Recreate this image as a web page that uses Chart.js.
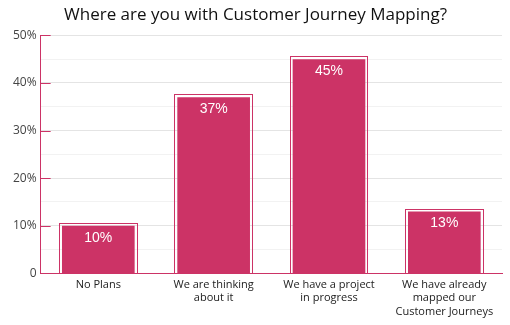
<!DOCTYPE html>
<html>
<head>
<meta charset="utf-8">
<script src="https://cdn.jsdelivr.net/npm/chart.js@4"></script>
<style>
  html, body { margin: 0; padding: 0; background: #fff; }
  #wrap { width: 510px; height: 325px; }
</style>
</head>
<body>
<div id="wrap"><canvas id="grafico"></canvas></div>
<script>
'use strict';

const titulo = "Where are you with Customer Journey Mapping?";
const categorias = [
    ["No Plans"],
    ["We are thinking", "about it"],
    ["We have a project", "in progress"],
    ["We have already", "mapped our", "Customer Journeys"]
];
const valores = [10, 37, 45, 13];

const ROSA = "#cc3366";

// Contorno exterior de cada barra y etiqueta blanca dentro
const marcoBarras = {
    id: "marcoBarras",
    afterDatasetsDraw(chart) {
        const ctx = chart.ctx;
        const meta = chart.getDatasetMeta(0);
        ctx.save();
        meta.data.forEach((bar, i) => {
            const x0 = Math.round(bar.x - bar.width / 2) - 2.5;
            const x1 = Math.round(bar.x + bar.width / 2) + 2.5;
            const y0 = Math.round(bar.y) - 2.5;
            const y1 = Math.round(bar.base) + 0.5;
            ctx.strokeStyle = ROSA;
            ctx.lineWidth = 1;
            ctx.strokeRect(x0, y0, x1 - x0, y1 - y0);
            ctx.fillStyle = "#fff";
            ctx.font = "14px 'Liberation Sans', Arial, sans-serif";
            ctx.textAlign = "center";
            ctx.textBaseline = "middle";
            ctx.fillText(valores[i] + "%", bar.x, bar.y + 12);
        });
        ctx.restore();
    }
};

// Marcas del eje Y hacia dentro
const marcasEjeY = {
    id: "marcasEjeY",
    afterDraw(chart) {
        const ctx = chart.ctx;
        const y = chart.scales.y;
        ctx.save();
        ctx.strokeStyle = ROSA;
        ctx.lineWidth = 1;
        y.ticks.forEach(t => {
            if (t.value % 10 !== 0) return;
            const py = Math.round(y.getPixelForValue(t.value)) + 0.5;
            ctx.beginPath();
            ctx.moveTo(y.right, py);
            ctx.lineTo(y.right + 10, py);
            ctx.stroke();
        });
        ctx.restore();
    }
};

new Chart(document.getElementById("grafico").getContext("2d"), {
    type: "bar",
    data: {
        labels: categorias,
        datasets: [{
            data: valores,
            backgroundColor: ROSA,
            borderWidth: 0,
            barPercentage: 0.63,
            categoryPercentage: 1
        }]
    },
    options: {
        responsive: true,
        maintainAspectRatio: false,
        animation: false,
        layout: { padding: { top: 3, right: 8, left: 9, bottom: 2 } },
        plugins: {
            legend: { display: false },
            tooltip: { enabled: false },
            title: {
                display: true,
                text: titulo,
                color: "#111",
                font: { family: "'Open Sans', sans-serif", size: 17, weight: "normal" },
                padding: { top: 2, bottom: 10 }
            }
        },
        scales: {
            x: {
                grid: { display: false, drawTicks: false },
                border: { color: ROSA, width: 1 },
                ticks: {
                    color: "#222",
                    font: { family: "'Open Sans', sans-serif", size: 11 },
                    padding: 5,
                    maxRotation: 0,
                    autoSkip: false
                }
            },
            y: {
                min: 0,
                max: 50,
                grid: {
                    drawTicks: false,
                    color: ctx => (ctx.tick && ctx.tick.value % 10 === 0) ? "#e4e4e4" : "#f2f2f2",
                    lineWidth: 1
                },
                border: { color: ROSA, width: 1 },
                ticks: {
                    stepSize: 5,
                    autoSkip: false,
                    color: "#444",
                    padding: 4,
                    font: { family: "'Open Sans', sans-serif", size: 12 },
                    callback: v => v === 0 ? "0" : (v % 10 === 0 ? v + "%" : "")
                }
            }
        }
    },
    plugins: [marcoBarras, marcasEjeY]
});
</script>
</body>
</html>
